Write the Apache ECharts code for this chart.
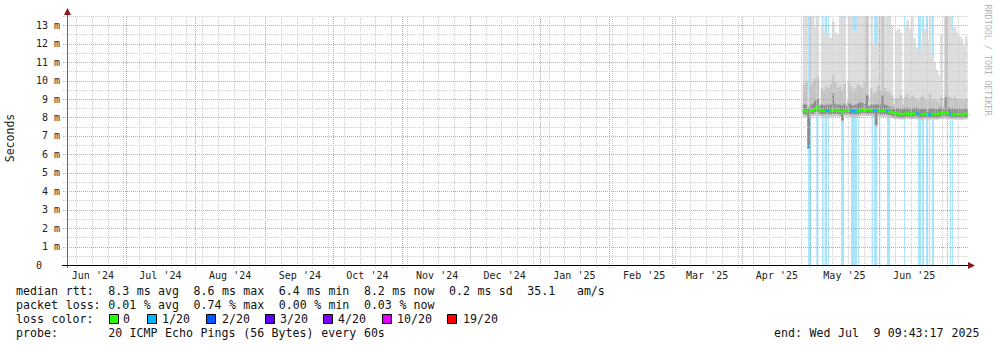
<!DOCTYPE html>
<html><head><meta charset="utf-8">
<script src="https://cdn.jsdelivr.net/npm/echarts@6/dist/echarts.min.js"></script>
<style>html,body{margin:0;padding:0;background:#fff}#c{width:997px;height:347px}</style>
</head><body><div id="c"></div>
<script>
// ---------------- DATA ----------------
// daily bins starting 2025-04-28 (UTC)
const binStartDate = '2025-04-28';
const binHours = 24;
const median = [8.34,8.33,6.4,8.35,8.38,8.45,8.6,8.4,8.36,8.35,8.37,8.36,8.35,8.36,8.38,8.36,8.35,8.3,8.37,8.38,
  8.37,8.36,8.33,8.33,8.34,8.4,8.42,8.4,8.41,8.4,8.4,8.38,8.37,8.38,8.36,8.35,8.37,8.35,8.3,8.27,
  8.24,8.22,8.2,8.18,8.18,8.2,8.22,8.2,8.2,8.22,8.24,8.18,8.16,8.18,8.2,8.17,8.18,8.2,8.18,8.17,
  8.2,8.22,8.25,8.25,8.22,8.2,8.18,8.18,8.17,8.18,8.16,8.18,8.2];
const medianLoss = [0,0,1,0,0,0,0,0,0,0,1,1,0,0,0,0,0,0,0,0,
  0,1,1,1,0,0,0,0,0,0,0,1,1,0,0,0,0,1,0,0,
  0,0,0,0,0,0,0,0,0,0,1,1,0,0,0,1,1,0,0,0,
  0,0,0,0,0,1,0,0,0,0,0,0,0];
const smokeLo = [8.05,8.04,6.3,8.06,8.07,8.1,8.12,8.08,8.05,8.04,8.05,8.05,8.05,8.06,8.07,8.06,8.05,7.75,8.07,8.07,
  8.06,8.05,8.03,8.03,8.04,8.08,8.1,8.08,8.09,8.08,8.08,8.06,7.5,8.07,8.05,8.04,8.06,8.04,8.0,7.97,
  7.95,7.93,7.91,7.9,7.9,7.91,7.93,7.91,7.91,7.93,7.94,7.9,7.88,7.9,7.91,7.89,7.9,7.91,7.9,7.89,
  7.91,7.93,7.95,7.95,7.93,7.91,7.9,7.9,7.89,7.9,7.88,7.9,7.91];
const darkLo = [8.18,8.17,6.4,8.19,8.2,8.28,8.3,8.22,8.18,8.17,8.19,8.18,8.18,8.19,8.2,8.19,8.18,7.85,8.2,8.2,
  8.19,8.18,8.16,8.16,8.17,8.22,8.24,8.22,8.23,8.22,8.22,8.2,7.6,8.2,8.18,8.17,8.19,8.17,8.13,8.1,
  8.07,8.05,8.03,8.01,8.01,8.03,8.05,8.03,8.03,8.05,8.06,8.01,7.99,8.01,8.03,8.0,8.01,8.03,8.01,8.0,
  8.03,8.05,8.07,8.07,8.05,8.03,8.01,8.01,8.0,8.01,7.99,8.01,8.03];
const darkHi = [8.7,8.7,8.5,8.7,8.75,8.9,9.0,8.6,8.7,8.65,8.7,8.7,8.7,9.3,8.75,8.7,8.7,8.65,8.75,8.6,
  8.8,8.7,8.65,8.7,8.75,8.8,8.8,8.75,9.2,8.6,8.7,8.7,8.7,8.7,8.7,9.2,8.7,8.65,8.6,8.55,
  8.5,8.5,8.5,8.5,8.45,8.5,8.55,8.5,8.5,8.5,8.55,8.5,8.45,8.5,8.5,8.45,8.5,8.5,8.5,8.45,
  8.5,8.55,8.5,9.1,8.55,8.5,8.5,8.5,8.45,8.5,8.45,8.5,8.5];
const smokeMid = [9.8,9.9,8.6,9.7,9.9,10.1,10.2,8.7,9.6,9.5,9.7,9.6,9.8,10.3,9.9,9.6,9.7,9.5,9.8,8.7,
  9.9,9.7,9.5,9.6,9.8,9.7,9.6,9.9,13.6,8.7,9.6,9.3,9.4,9.7,9.5,13.6,9.6,9.4,9.4,9.2,
  8.7,9.1,9.0,9.2,8.7,9.1,9.3,9.0,9.2,9.1,9.0,8.9,9.1,9.2,9.0,8.9,9.3,8.9,9.0,8.9,
  8.8,9.1,8.6,13.6,9.2,9.1,9.0,9.1,9.0,8.9,9.0,8.9,9.0];
const smokeHi = [13.6,13.6,9.3,13.6,13.6,12.9,13.6,8.8,13.0,12.6,12.6,12.4,12.3,13.2,12.6,12.5,13.6,13.3,13.6,8.9,
  13.6,13.6,12.7,12.7,13.6,13.6,13.6,13.6,13.6,8.9,13.6,12.0,12.0,13.6,13.6,13.6,13.5,13.2,13.6,13.0,
  9.0,12.7,12.8,12.6,9.0,12.9,13.3,12.8,13.6,12.3,11.8,11.6,11.9,12.6,12.8,12.2,13.6,11.4,11.0,10.6,
  10.3,12.5,8.9,13.6,13.6,13.6,12.8,12.9,12.6,12.4,12.3,11.9,12.4];
// periods with packet loss (1/20), UTC
const lossPeriods = [
  ['2025-04-30T08:00','2025-05-01T16:00'],['2025-05-04T02:00','2025-05-05T00:00'],
  ['2025-05-06T13:00','2025-05-07T05:00'],['2025-05-07T16:00','2025-05-08T19:00'],
  ['2025-05-09T05:00','2025-05-09T16:00'],['2025-05-15T00:00','2025-05-16T08:00'],
  ['2025-05-19T10:00','2025-05-22T03:00'],['2025-05-22T14:00','2025-05-23T00:00'],
  ['2025-05-28T14:00','2025-05-29T05:00'],['2025-05-29T16:00','2025-05-31T00:00'],
  ['2025-06-01T00:00','2025-06-01T08:00'],['2025-06-04T10:00','2025-06-05T19:00'],
  ['2025-06-12T00:00','2025-06-12T10:00'],['2025-06-18T05:00','2025-06-19T14:00'],
  ['2025-06-20T00:00','2025-06-20T22:00'],['2025-06-21T19:00','2025-06-22T17:00'],
  ['2025-06-23T02:00','2025-06-23T14:00'],['2025-06-24T10:00','2025-06-25T07:00'],
  ['2025-07-02T10:00','2025-07-02T22:00'],['2025-07-03T07:00','2025-07-03T19:00']
];
const monthLabels = ["Jun '24","Jul '24","Aug '24","Sep '24","Oct '24","Nov '24","Dec '24",
  "Jan '25","Feb '25","Mar '25","Apr '25","May '25","Jun '25"];
const yTickLabels = ['0','1 m','2 m','3 m','4 m','5 m','6 m','7 m','8 m','9 m','10 m','11 m','12 m','13 m'];
const lossLegend = [['0','#26ff00'],['1/20','#00b8ff'],['2/20','#0059ff'],['3/20','#5e00ff'],
  ['4/20','#7e00ff'],['10/20','#dd00ff'],['19/20','#ff0000']];
const statLines = [
  'median rtt:  8.3 ms avg  8.6 ms max  6.4 ms min  8.2 ms now  0.2 ms sd  35.1   am/s',
  'packet loss: 0.01 % avg  0.74 % max  0.00 % min  0.03 % now',
  'loss color:',
  'probe:       20 ICMP Echo Pings (56 Bytes) every 60s'
];
const endText = 'end: Wed Jul  9 09:43:17 2025';

// ---------------- CHART ----------------
const DAY = 864e5;
const X0 = Date.UTC(2024,5,5), X1 = Date.UTC(2025,6,10,10);
const YMAX = 13.5;
const binStart = Date.parse(binStartDate + 'T00:00:00Z');
const BIN = binHours * 3600e3;
const lossRanges = lossPeriods.map(p => [Date.parse(p[0]+':00Z'), Date.parse(p[1]+':00Z')]);

const labelVals = monthLabels.map((_, k) => Date.UTC(2024, 5 + k, 16, 12));

// grid lines
const gridItems = [];
for (let t = Date.UTC(2024,5,9); t < X1; t += 7*DAY) {
  const d = new Date(t); if (d.getUTCDate() !== 1) gridItems.push({k:'v', t, major:false});
}
for (let k = 0; k < 13; k++) gridItems.push({k:'v', t: Date.UTC(2024, 6 + k, 1), major:true});
for (let v = 0.5; v <= YMAX + 1e-9; v += 0.5) gridItems.push({k:'h', v, major: Math.abs(v - Math.round(v)) < 1e-6});

const mono = '"DejaVu Sans Mono", "Liberation Mono", monospace';

const smokeData = median.map((m, i) => [binStart + i*BIN, smokeLo[i], darkLo[i], darkHi[i], smokeMid[i], smokeHi[i]]);
const medData = median.map((m, i) => [binStart + i*BIN, m, medianLoss[i]]);
const lossData = lossRanges.map(r => [r[0], r[1]]);

const graphics = [];
// arrows
graphics.push({type:'polygon', shape:{points:[[968,262],[975,265.5],[968,269]]}, style:{fill:'#8b1a1a'}, z:100});
graphics.push({type:'polygon', shape:{points:[[64,15],[67.5,8],[71,15]]}, style:{fill:'#8b1a1a'}, z:100});
graphics.push({type:'line', shape:{x1:67.5,y1:14,x2:67.5,y2:268}, style:{stroke:'#666',lineWidth:1}, z:99});
graphics.push({type:'line', shape:{x1:62,y1:265.5,x2:968,y2:265.5}, style:{stroke:'#000',lineWidth:1}, z:99});
// y title
graphics.push({type:'text', x:10, y:138, rotation:Math.PI/2,
  style:{text:'Seconds', font:'11.5px ' + mono, fill:'#222', align:'center', verticalAlign:'middle'}});
graphics.push({type:'text', x:988, y:60, rotation:-Math.PI/2,
  style:{text:'RRDTOOL / TOBI OETIKER', font:'8.4px ' + mono, fill:'#b4b4b4', align:'center', verticalAlign:'middle'}});
// stat lines, monospace grid
const CW = 7.1, TX0 = 16, rowY = [291, 305, 319, 333];
function monoTokens(str, x0, y) {
  const re = /\S+/g; let m;
  while ((m = re.exec(str))) {
    graphics.push({type:'text', x: x0 + m.index * CW, y,
      style:{text:m[0], font:'11.6px ' + mono, fill:'#111', align:'left', verticalAlign:'middle'}});
  }
}
statLines.forEach((s, r) => monoTokens(s, TX0, rowY[r]));
monoTokens(endText, 980 - endText.length * CW, rowY[3]);
const boxX = [109,147,206,265,323,382,447];
const labX = [123,162,222,280,338,397,463];
lossLegend.forEach((l, k) => {
  graphics.push({type:'rect', shape:{x:boxX[k]+0.5, y:314.5, width:9, height:9}, style:{fill:l[1], stroke:'#000', lineWidth:1}});
  graphics.push({type:'text', x:labX[k], y:rowY[2], style:{text:l[0], font:'11.6px ' + mono, fill:'#111', align:'left', verticalAlign:'middle'}});
});

const chart = echarts.init(document.getElementById('c'), null, {renderer:'svg', width:997, height:347});
chart.setOption({
  animation:false,
  backgroundColor:'#ffffff',
  grid:{left:67, right:29, top:16, bottom:82, containLabel:false},
  xAxis:{type:'value', min:X0, max:X1, z:5,
    axisLine:{show:false}, axisTick:{show:false}, splitLine:{show:false},
    axisLabel:{customValues: labelVals, margin:5, fontFamily: mono, fontSize:10, color:'#222',
      formatter: v => { const k = labelVals.indexOf(v); return k >= 0 ? monthLabels[k] : ''; }}
  },
  yAxis:{type:'value', min:0, max:YMAX, interval:1, z:5,
    axisLine:{show:false}, axisTick:{show:false}, splitLine:{show:false},
    axisLabel:{margin:7, fontFamily: mono, fontSize:10, color:'#222', showMaxLabel:false,
      formatter: v => { if (Math.abs(v - Math.round(v)) > 1e-6) return ''; const k = Math.round(v);
        return k === 0 ? '{z|' + yTickLabels[0] + '}' : (yTickLabels[k] || ''); },
      rich:{z:{fontFamily: mono, fontSize:10, color:'#222', padding:[0,18,0,0]}}
    }
  },
  graphic: graphics,
  series:[
    { type:'custom', name:'loss', z:1, silent:true, data: lossData, encode:{x:[0,1]},
      renderItem:(p, api) => {
        const a = api.coord([api.value(0), YMAX]), b = api.coord([api.value(1), 0]);
        return {type:'rect', shape:{x:a[0], y:a[1], width:Math.max(1, b[0]-a[0]), height:b[1]-a[1]}, style:{fill:'#aae4fa'}};
      }
    },
    { type:'custom', name:'smoke', z:2, silent:true, data: smokeData, encode:{x:0, y:[1,5]},
      renderItem:(p, api) => {
        const t = api.value(0);
        const x1 = api.coord([t, 0])[0], x2 = api.coord([t + BIN, 0])[0] + 0.5;
        const Y = v => api.coord([t, Math.min(v, YMAX)])[1];
        const lo = api.value(1), dl = api.value(2), dh = api.value(3), mid = api.value(4), hi = api.value(5);
        const r = (top, bot, c) => ({type:'rect', shape:{x:x1, y:Y(top), width:x2-x1, height:Y(bot)-Y(top)}, style:{fill:c}});
        return {type:'group', children:[ r(hi, lo, '#dddddd'), r(mid, lo, '#c4c4c4'), r(dh, dl, '#8c8c8c') ]};
      }
    },
    { type:'custom', name:'median', z:3, silent:true, data: medData, encode:{x:0, y:1},
      renderItem:(p, api) => {
        const t = api.value(0);
        const a = api.coord([t, api.value(1)]), b = api.coord([t + BIN, api.value(1)]);
        const c = api.value(2) > 0 ? '#00b8ff' : '#26ff00';
        return {type:'rect', shape:{x:a[0], y:a[1]-1.25, width:b[0]-a[0]+0.4, height:2.5}, style:{fill:c}};
      }
    },
    { type:'custom', name:'grid', z:4, silent:true,
      data: gridItems.map(g => [g.k === 'v' ? g.t : X0, g.k === 'h' ? g.v : 0]), encode:{x:0, y:1},
      renderItem:(p, api) => {
        const g = gridItems[p.dataIndex];
        const col = g.major ? '#e39a9a' : '#cfcfcf';
        if (g.k === 'v') {
          const x = Math.round(api.coord([g.t, 0])[0]) + 0.5;
          const yb = api.coord([g.t, 0])[1], yt = api.coord([g.t, YMAX])[1];
          return {type:'line', shape:{x1:x, y1:yb+3, x2:x, y2:yt}, style:{stroke:col, lineWidth:1, lineDash:[1,1]}};
        }
        const y = Math.round(api.coord([X0, g.v])[1]) + 0.5;
        const xl = api.coord([X0, g.v])[0], xr = api.coord([X1, g.v])[0];
        return {type:'line', shape:{x1:xl-4, y1:y, x2:xr, y2:y}, style:{stroke:col, lineWidth:1, lineDash:[1,1]}};
      }
    }
  ]
});
</script></body></html>
